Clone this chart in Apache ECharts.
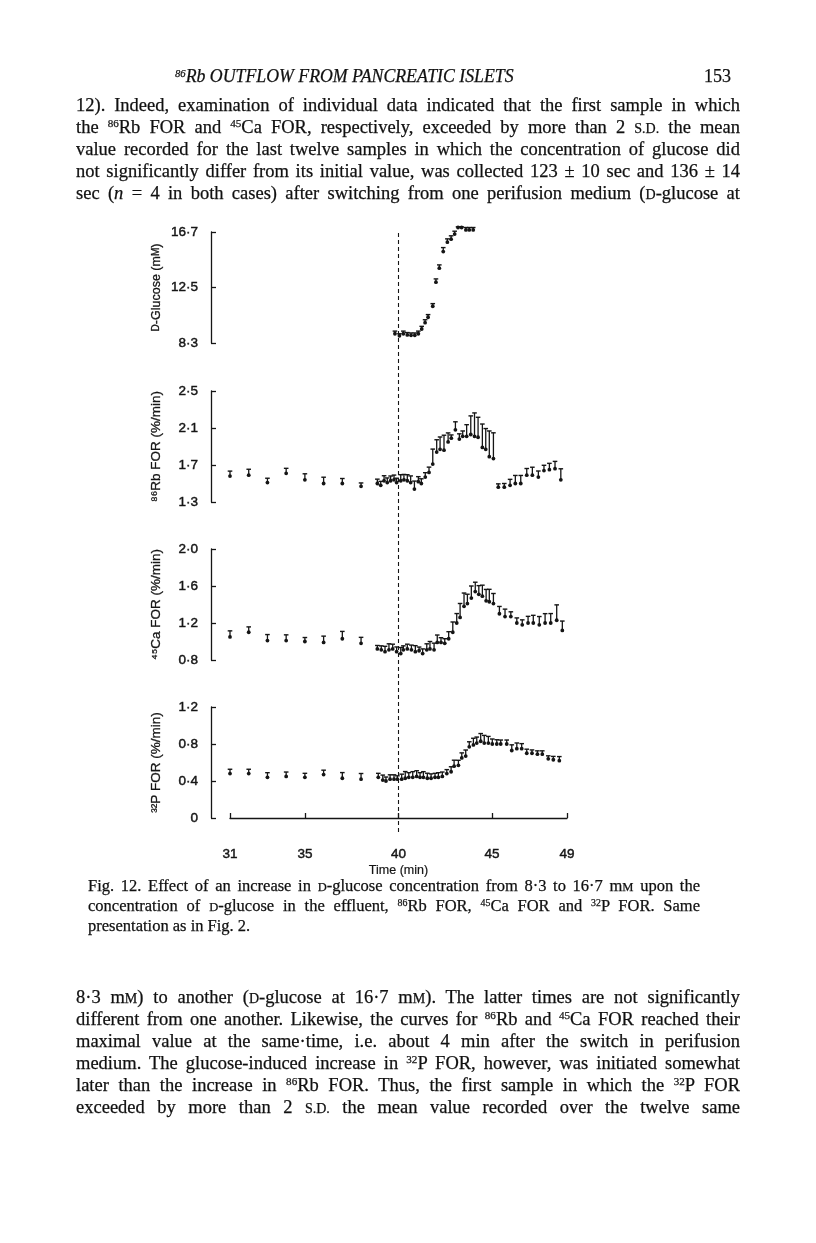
<!DOCTYPE html>
<html>
<head>
<meta charset="utf-8">
<script src="https://cdn.jsdelivr.net/npm/echarts@6/dist/echarts.min.js"></script>
<style>
html,body{margin:0;padding:0;background:#fff;}
#page{position:relative;width:816px;height:1243px;overflow:hidden;background:#fff;}
#chart{position:absolute;left:0;top:0;width:816px;height:1243px;}
.txt{position:absolute;font-family:"Liberation Serif","Times New Roman",serif;color:#111;-webkit-text-stroke:0.25px #111;}
.body .ln{height:22px;line-height:22px;width:664px;text-align:justify;text-align-last:justify;white-space:normal;overflow:hidden;}
.cap .ln{height:20px;line-height:20px;width:612px;text-align:justify;text-align-last:justify;overflow:hidden;}
.cap .ln.last{text-align-last:left;}
.sc{font-size:0.76em;}
.sp{font-size:0.6em;position:relative;top:-0.5em;line-height:0;}
</style>
</head>
<body>
<div id="page">
  <div id="chart"></div>

  <div class="txt" style="left:175px;top:65px;height:22px;line-height:22px;font-size:17.8px;font-style:italic;"><span class="sp">86</span>Rb OUTFLOW FROM PANCREATIC ISLETS</div>
  <div class="txt" style="left:704px;top:65px;height:22px;line-height:22px;font-size:18px;">153</div>

  <div class="txt body fitblock" data-fs="18.5" style="left:76px;top:94px;">
    <div class="ln">12). Indeed, examination of individual data indicated that the first sample in which</div>
    <div class="ln">the <span class="sp">86</span>Rb FOR and <span class="sp">45</span>Ca FOR, respectively, exceeded by more than 2 <span class="sc">S.D.</span> the mean</div>
    <div class="ln">value recorded for the last twelve samples in which the concentration of glucose did</div>
    <div class="ln">not significantly differ from its initial value, was collected 123 ± 10 sec and 136 ± 14</div>
    <div class="ln">sec (<i>n</i> = 4 in both cases) after switching from one perifusion medium (<span class="sc">D</span>-glucose at</div>
  </div>

  <div class="txt cap fitblock" data-fs="16.5" style="left:88px;top:876px;">
    <div class="ln">Fig. 12. Effect of an increase in <span class="sc">D</span>-glucose concentration from 8·3 to 16·7 m<span class="sc">M</span> upon the</div>
    <div class="ln">concentration of <span class="sc">D</span>-glucose in the effluent, <span class="sp">86</span>Rb FOR, <span class="sp">45</span>Ca FOR and <span class="sp">32</span>P FOR. Same</div>
    <div class="ln last">presentation as in Fig. 2.</div>
  </div>

  <div class="txt body fitblock" data-fs="18.5" style="left:76px;top:986px;">
    <div class="ln">8·3 m<span class="sc">M</span>) to another (<span class="sc">D</span>-glucose at 16·7 m<span class="sc">M</span>). The latter times are not significantly</div>
    <div class="ln">different from one another. Likewise, the curves for <span class="sp">86</span>Rb and <span class="sp">45</span>Ca FOR reached their</div>
    <div class="ln">maximal value at the same·time, i.e. about 4 min after the switch in perifusion</div>
    <div class="ln">medium. The glucose-induced increase in <span class="sp">32</span>P FOR, however, was initiated somewhat</div>
    <div class="ln">later than the increase in <span class="sp">86</span>Rb FOR. Thus, the first sample in which the <span class="sp">32</span>P FOR</div>
    <div class="ln">exceeded by more than 2 <span class="sc">S.D.</span> the mean value recorded over the twelve same</div>
  </div>
</div>

<script>
// shrink each text block until every line fits on one line
document.querySelectorAll('.fitblock').forEach(block => {
  let fs = parseFloat(block.dataset.fs);
  const lines = Array.from(block.querySelectorAll('.ln'));
  const fits = () => lines.every(l => l.scrollHeight <= l.clientHeight + 2);
  block.style.fontSize = fs + 'px';
  while (!fits() && fs > 10) { fs -= 0.25; block.style.fontSize = fs + 'px'; }
});
</script>

<script>
// ---------- DATA ----------
const switchTime = 40;
const timeTicks = [31, 35, 40, 45, 49];

const glucoseTicks = [8.3, 12.5, 16.7];
const glucoseTime = [39.81, 40.05, 40.26, 40.47, 40.67, 40.87, 41.06, 41.24, 41.42, 41.58, 41.83, 42.00, 42.18, 42.39, 42.61, 42.81, 43.00, 43.18, 43.37, 43.60, 43.78, 43.99];
const glucoseMean = [9.00, 8.85, 9.00, 8.91, 8.88, 8.88, 9.00, 9.36, 9.84, 10.25, 11.08, 12.90, 13.96, 15.22, 15.93, 16.16, 16.54, 17.04, 17.04, 16.86, 16.86, 16.86];
const glucoseSem  = [0.20, 0.15, 0.20, 0.18, 0.18, 0.18, 0.20, 0.20, 0.22, 0.20, 0.20, 0.25, 0.25, 0.30, 0.25, 0.25, 0.22, 0.05, 0.05, 0.18, 0.18, 0.18];

const rbTicks = [1.3, 1.7, 2.1, 2.5];
const rbTime = [31, 32, 33, 34, 35, 36, 37, 38,
  38.87, 39.05, 39.23, 39.40, 39.58, 39.76, 39.90, 40.12, 40.29, 40.47,
  40.65, 40.85, 41.06, 41.22, 41.43, 41.63, 41.83, 42.04, 42.22, 42.43,
  42.65, 42.82, 43.04, 43.25, 43.43, 43.64, 43.86, 44.06, 44.25, 44.48,
  44.66, 44.85, 45.07,
  45.33, 45.65, 45.96, 46.24, 46.53, 46.85, 47.15, 47.47, 47.77, 48.06, 48.36, 48.67];
const rbMean = [1.58, 1.59, 1.51, 1.61, 1.54, 1.50, 1.50, 1.47,
  1.50, 1.48, 1.53, 1.51, 1.53, 1.54, 1.51, 1.53, 1.54, 1.53,
  1.51, 1.44, 1.52, 1.50, 1.57, 1.62, 1.71, 1.84, 1.87, 1.86,
  1.95, 1.99, 2.08, 1.98, 2.01, 2.01, 2.03, 2.01, 2.00, 1.89,
  1.87, 1.79, 1.77,
  1.46, 1.46, 1.48, 1.50, 1.50, 1.59, 1.59, 1.57, 1.64, 1.65, 1.66, 1.54];
const rbSem = [0.054, 0.064, 0.047, 0.054, 0.065, 0.068, 0.054, 0.036,
  0.047, 0.043, 0.054, 0.050, 0.051, 0.051, 0.047, 0.065, 0.058, 0.065,
  0.072, 0.086, 0.054, 0.051, 0.047, 0.057, 0.162, 0.133, 0.133, 0.162,
  0.097, 0.035, 0.087, 0.057, 0.058, 0.126, 0.201, 0.253, 0.216, 0.253,
  0.224, 0.278, 0.278,
  0.036, 0.040, 0.065, 0.087, 0.087, 0.072, 0.086, 0.065, 0.057, 0.068, 0.079, 0.119];

const caTicks = [0.8, 1.2, 1.6, 2.0];
const caTime = [31, 32, 33, 34, 35, 36, 37, 38,
  38.87, 39.08, 39.28, 39.49, 39.69, 39.90, 40.12, 40.26, 40.47, 40.69,
  40.90, 41.10, 41.29, 41.51, 41.68, 41.90, 42.07, 42.27, 42.47, 42.68,
  42.90, 43.11, 43.29, 43.50, 43.68, 43.89, 44.10, 44.29, 44.48, 44.68,
  44.85, 45.07,
  45.39, 45.69, 46.00, 46.32, 46.61, 46.92, 47.20, 47.52, 47.83, 48.13, 48.45, 48.75];
const caMean = [1.05, 1.10, 1.01, 1.01, 1.00, 0.99, 1.03, 0.98,
  0.92, 0.91, 0.89, 0.91, 0.92, 0.89, 0.87, 0.91, 0.92, 0.91,
  0.89, 0.90, 0.87, 0.91, 0.92, 0.91, 0.99, 0.99, 0.98, 1.03,
  1.10, 1.20, 1.26, 1.38, 1.41, 1.47, 1.54, 1.51, 1.49, 1.44,
  1.43, 1.41,
  1.30, 1.27, 1.27, 1.20, 1.18, 1.20, 1.20, 1.18, 1.20, 1.20, 1.23, 1.12];
const caSem = [0.065, 0.058, 0.065, 0.062, 0.043, 0.068, 0.079, 0.065,
  0.037, 0.043, 0.058, 0.065, 0.051, 0.051, 0.065, 0.043, 0.051, 0.051,
  0.065, 0.040, 0.050, 0.065, 0.080, 0.072, 0.080, 0.051, 0.050, 0.076,
  0.111, 0.102, 0.151, 0.144, 0.101, 0.130, 0.101, 0.094, 0.119, 0.123,
  0.134, 0.109,
  0.079, 0.080, 0.051, 0.055, 0.054, 0.072, 0.083, 0.090, 0.101, 0.102, 0.166, 0.101];

const pTicks = [0, 0.4, 0.8, 1.2];
const pTime = [31, 32, 33, 34, 35, 36, 37, 38,
  38.92, 39.16, 39.33, 39.55, 39.76, 39.94, 40.17, 40.36, 40.55, 40.76,
  40.97, 41.15, 41.33, 41.54, 41.74, 41.95, 42.13, 42.34, 42.58, 42.81,
  42.97, 43.20, 43.38, 43.59, 43.78, 44.00, 44.18, 44.39, 44.58, 44.80,
  45.01, 45.25, 45.46, 45.78, 46.05, 46.32, 46.58, 46.85, 47.13, 47.42,
  47.68, 48.00, 48.27, 48.59];
const pMean = [0.48, 0.48, 0.44, 0.45, 0.44, 0.47, 0.43, 0.42,
  0.44, 0.41, 0.40, 0.42, 0.42, 0.42, 0.42, 0.43, 0.44, 0.44,
  0.45, 0.44, 0.44, 0.43, 0.43, 0.44, 0.44, 0.45, 0.48, 0.50,
  0.56, 0.57, 0.65, 0.67, 0.77, 0.79, 0.81, 0.83, 0.81, 0.81,
  0.80, 0.80, 0.80, 0.80, 0.73, 0.75, 0.75, 0.70, 0.70, 0.69,
  0.69, 0.64, 0.63, 0.62];
const pSem = [0.047, 0.047, 0.050, 0.047, 0.043, 0.047, 0.061, 0.061,
  0.043, 0.054, 0.043, 0.047, 0.047, 0.036, 0.054, 0.072, 0.050, 0.061,
  0.061, 0.050, 0.061, 0.054, 0.047, 0.043, 0.050, 0.047, 0.043, 0.054,
  0.065, 0.054, 0.054, 0.065, 0.054, 0.072, 0.065, 0.083, 0.083, 0.072,
  0.054, 0.046, 0.043, 0.043, 0.061, 0.061, 0.054, 0.044, 0.036, 0.036,
  0.036, 0.032, 0.036, 0.044];

// ---------- CHART ----------
const INK = '#151515';
const sansFont = '"Liberation Sans", Arial, sans-serif';
const fmt = v => (v === 0 ? '0' : v.toFixed(1).replace('.', '·'));
const heavy = { textBorderColor: INK, textBorderWidth: 0.45 };

function pack(t, m, s) { return t.map((x, i) => [x, m[i], s[i]]); }

function renderBar(params, api) {
  const x = api.value(0), m = api.value(1), s = api.value(2);
  const p0 = api.coord([x, m]);
  const p1 = api.coord([x, m + s]);
  const w = 2.3;
  return {
    type: 'group',
    children: [
      { type: 'line', shape: { x1: p0[0], y1: p0[1], x2: p1[0], y2: p1[1] }, style: { stroke: INK, lineWidth: 1.3 } },
      { type: 'line', shape: { x1: p1[0] - w, y1: p1[1], x2: p1[0] + w, y2: p1[1] }, style: { stroke: INK, lineWidth: 1.4 } },
      { type: 'circle', shape: { cx: p0[0], cy: p0[1], r: 1.9 }, style: { fill: INK } }
    ]
  };
}

const panels = [
  { name: '{sc|D}-Glucose (m{sc|M})', ticks: glucoseTicks, t: glucoseTime, m: glucoseMean, s: glucoseSem, top: 232 },
  { name: '⁸⁶Rb FOR (%/min)', ticks: rbTicks, t: rbTime, m: rbMean, s: rbSem, top: 391 },
  { name: '⁴⁵Ca FOR (%/min)', ticks: caTicks, t: caTime, m: caMean, s: caSem, top: 549 },
  { name: '³²P FOR (%/min)', ticks: pTicks, t: pTime, m: pMean, s: pSem, top: 707 }
];

const grid = panels.map(p => ({ left: 230, width: 337, top: p.top, height: 111 }));
grid.push({ left: 230, width: 337, top: 232, height: 600 });

const xAxis = panels.map((p, i) => ({
  type: 'value', gridIndex: i, min: timeTicks[0], max: timeTicks[timeTicks.length - 1],
  show: i === 3, offset: 18,
  axisLine: { show: true, lineStyle: { color: INK, width: 1.3 } },
  axisTick: { show: true, inside: true, length: 5, customValues: timeTicks, lineStyle: { color: INK, width: 1.3 } },
  axisLabel: Object.assign({ customValues: timeTicks, color: INK, fontFamily: sansFont, fontSize: 13.5, margin: 11 }, heavy),
  splitLine: { show: false },
  name: i === 3 ? 'Time (min)' : '', nameLocation: 'middle', nameGap: 28,
  nameTextStyle: { color: INK, fontFamily: sansFont, fontSize: 12.5, textBorderColor: INK, textBorderWidth: 0.2 }
}));
xAxis.push({ type: 'value', gridIndex: 4, min: 31, max: 49, show: false });

const yAxis = panels.map((p, i) => ({
  type: 'value', gridIndex: i, min: p.ticks[0], max: p.ticks[p.ticks.length - 1],
  position: 'left', offset: 19,
  axisLine: { show: true, lineStyle: { color: INK, width: 1.3 } },
  axisTick: { show: true, inside: true, length: 5, customValues: p.ticks, lineStyle: { color: INK, width: 1.3 } },
  axisLabel: Object.assign({ customValues: p.ticks, formatter: fmt, color: INK, fontFamily: sansFont, fontSize: 13.5, margin: 13 }, heavy),
  splitLine: { show: false },
  name: p.name, nameLocation: 'middle', nameRotate: 90, nameGap: 48,
  nameTextStyle: { color: INK, fontFamily: sansFont, fontSize: i === 0 ? 12.5 : 13.5,
    textBorderColor: INK, textBorderWidth: 0.3,
    rich: { sc: { fontSize: 10, fontFamily: sansFont, color: INK, textBorderColor: INK, textBorderWidth: 0.3 } } }
}));
yAxis.push({ type: 'value', gridIndex: 4, min: 0, max: 1, show: false });

const series = panels.map((p, i) => ({
  type: 'custom', xAxisIndex: i, yAxisIndex: i, renderItem: renderBar,
  data: pack(p.t, p.m, p.s), clip: false, silent: true
}));
series.push({
  type: 'line', xAxisIndex: 4, yAxisIndex: 4, data: [], silent: true,
  markLine: {
    silent: true, symbol: ['none', 'none'], label: { show: false },
    lineStyle: { color: INK, type: [4, 3], width: 1.1 },
    data: [{ xAxis: switchTime }]
  }
});

const chart = echarts.init(document.getElementById('chart'), null, { renderer: 'canvas' });
chart.setOption({ animation: false, backgroundColor: 'transparent', grid, xAxis, yAxis, series });
</script>
</body>
</html>
